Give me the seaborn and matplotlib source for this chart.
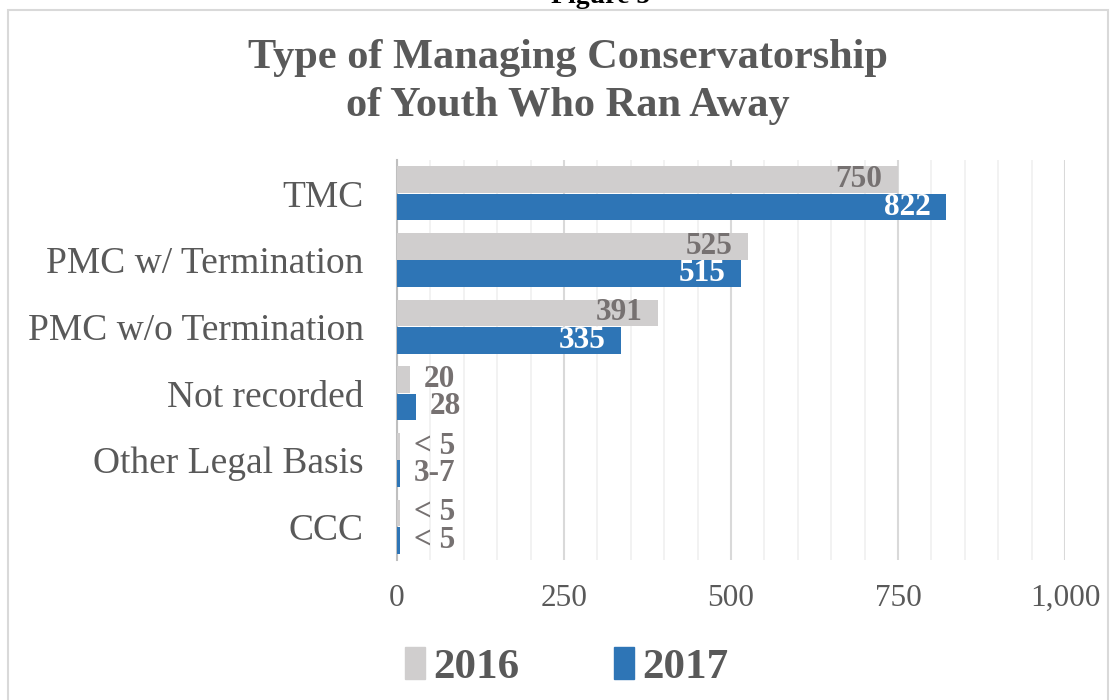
import pandas as pd
import seaborn as sns
import matplotlib.pyplot as plt
from matplotlib.patches import Rectangle
from matplotlib.ticker import MultipleLocator, FuncFormatter

# data
categories = ['TMC', 'PMC w/ Termination', 'PMC w/o Termination',
              'Not recorded', 'Other Legal Basis', 'CCC']
years = ['2016', '2017']
vals_2016 = [750, 525, 391, 20, 4, 4]
vals_2017 = [822, 515, 335, 28, 4, 4]
labels_2016 = ['750', '525', '391', '20', '< 5', '< 5']
labels_2017 = ['822', '515', '335', '28', '3-7', '< 5']

gray = '#D0CECE'
blue = '#2E75B6'
txt_gray = '#767171'
axis_gray = '#595959'

df = pd.DataFrame({
    'category': categories * 2,
    'year': [years[0]] * 6 + [years[1]] * 6,
    'value': vals_2016 + vals_2017,
})

sns.set_style('white')
plt.rcParams['font.family'] = ['Liberation Serif', 'DejaVu Serif']

fig = plt.figure(figsize=(11.16, 7), dpi=100)
ax = fig.add_axes([397 / 1116, 1 - 560 / 700, (1065 - 397) / 1116, 400 / 700])

sns.barplot(data=df, y='category', x='value', hue='year', order=categories,
            palette=[gray, blue], saturation=1, orient='h', width=0.82, gap=0.03,
            ax=ax, edgecolor='none', legend=False, zorder=3)

# value labels: inside end for big bars, outside for small ones
all_labels = [labels_2016, labels_2017]
all_vals = [vals_2016, vals_2017]
for k, cont in enumerate(ax.containers):
    for bar, v, lab in zip(cont, all_vals[k], all_labels[k]):
        y = bar.get_y() + bar.get_height() / 2
        if v > 100:
            col = txt_gray if k == 0 else 'white'
            ax.annotate(lab, (v, y), xytext=(-11, 0), textcoords='offset points',
                        ha='right', va='center', fontsize=22.5, fontweight='bold',
                        color=col, zorder=5)
        else:
            ax.annotate(lab, (v, y), xytext=(10, 0), textcoords='offset points',
                        ha='left', va='center', fontsize=22.5, fontweight='bold',
                        color=txt_gray, zorder=5)

ax.set_xlim(0, 1000)
ax.xaxis.set_major_locator(MultipleLocator(250))
ax.xaxis.set_minor_locator(MultipleLocator(50))
ax.xaxis.set_major_formatter(FuncFormatter(lambda x, p: f'{int(x):,}'))
ax.grid(axis='x', which='major', color='#D9D9D9', linewidth=1.5, zorder=0)
ax.grid(axis='x', which='minor', color='#F0F0F0', linewidth=1.2, zorder=0)
ax.set_axisbelow(True)
ax.set_xlabel('')
ax.set_ylabel('')
for s in ['top', 'right', 'bottom']:
    ax.spines[s].set_visible(False)
ax.spines['left'].set_color('#BFBFBF')
ax.spines['left'].set_linewidth(1.5)
ax.tick_params(axis='x', which='both', length=0, pad=17, labelsize=22.5, labelcolor=axis_gray)
ax.tick_params(axis='y', length=0, pad=24, labelsize=27, labelcolor=axis_gray)

# title
fig.text(0.509, 1 - 82 / 700, 'Type of Managing Conservatorship\nof Youth Who Ran Away',
         ha='center', va='center', fontsize=30.5, fontweight='bold', color=axis_gray,
         linespacing=1.36)

# partially cut caption at the very top
fig.text(0.538, 1 - 3 / 700, 'Figure 5', ha='center', va='baseline',
         fontsize=20, fontweight='bold', color='black')

# legend
handles = [Rectangle((0, 0), 1, 1, color=gray), Rectangle((0, 0), 1, 1, color=blue)]
fig.legend(handles, years, loc='center', bbox_to_anchor=(0.508, 1 - 667 / 700),
           ncol=2, frameon=False, handlelength=0.45, handleheight=0.75,
           handletextpad=0.2, columnspacing=2.2,
           prop={'family': 'Liberation Serif', 'weight': 'bold', 'size': 31},
           labelcolor=axis_gray)

# chart border
fig.add_artist(Rectangle((8 / 1116, -0.05), 1100 / 1116, 1.05 - 10 / 700,
                         transform=fig.transFigure, fill=False,
                         edgecolor='#D9D9D9', linewidth=1.5))

fig.savefig('out.png', dpi=100)
